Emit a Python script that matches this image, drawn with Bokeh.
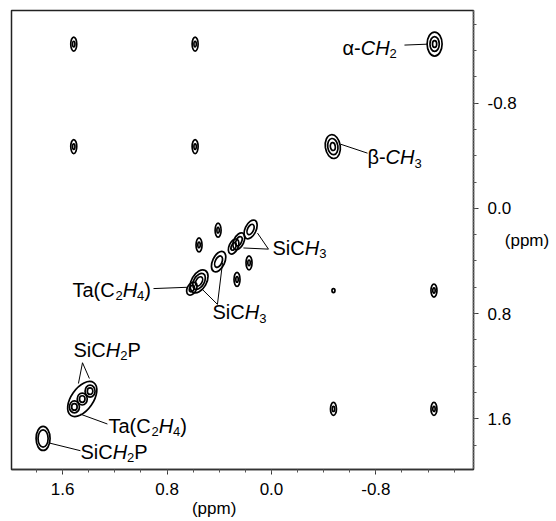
from bokeh.plotting import figure
from bokeh.models import Range1d, FixedTicker, PrintfTickFormatter
from bokeh.embed import file_html
from bokeh.resources import INLINE
from bokeh.core.properties import value
import math

# ---------------- data (ppm) ----------------
# diagonal peaks (F2 = F1)
diag_ppm = [-1.25, -0.47, 0.16, 0.25, 0.29, 0.405, 0.555, 0.61, 1.39, 1.45, 1.51, 1.75]
# cross peaks
cross_f2 = [1.515, 0.585, 1.515, 0.585, -0.475, -1.245, -0.475, -1.245, 0.555, 0.264, 0.409, 0.172]
cross_f1 = [-1.25, -1.25, -0.47, -0.47, 0.625, 0.625, 1.525, 1.525, 0.278, 0.54, 0.166, 0.414]
# envelope of the Ta(C2H4) multiplet
env_ppm = [1.45]
x_ticks = [1.6, 0.8, 0.0, -0.8]
y_ticks = [-0.8, 0.0, 0.8, 1.6]
minor = [round(-1.4 + 0.2 * i, 1) for i in range(17)]

# ---------------- styles ----------------
diag_style = [  # (w px, h px, angle deg, ring scales)
    (15, 24, 0, [1, 0.62, 0.28]),
    (15, 24, 8, [1, 0.68, 0.33]),
    (11, 20, -25, [1, 0.55]),
    (10, 18, -25, [1, 0.55]),
    (9, 16, -25, [1, 0.5]),
    (12, 22, -25, [1, 0.55]),
    (15, 25, -30, [1, 0.7, 0.4]),
    (9, 14, -30, [1, 0.5]),
    (10, 12, 0, [1, 0.55]),
    (10, 12, 0, [1, 0.55]),
    (10, 12, 0, [1, 0.55]),
    (14, 24, 0, [1, 0.72]),
]
cross_style = [(6, 14, 0, [1, 0.4])] * 4 + [(3, 4, 0, [1]), (6, 13, 0, [1, 0.4])] + \
              [(6, 13, 0, [1, 0.4])] * 2 + [(6, 14, 0, [1, 0.4])] * 4
env_style = [(40, 22, 55, [1])]

FONT = "Liberation Sans"

p = figure(width=552, height=520,
           x_range=Range1d(1.992, -1.548), y_range=Range1d(1.986, -1.505),
           output_backend="svg", toolbar_location=None,
           x_axis_location="below", y_axis_location="right",
           min_border_left=11, min_border_top=10, min_border_right=79, min_border_bottom=46)
p.grid.visible = False
p.outline_line_color = "#222222"
p.outline_line_width = 1.5
p.background_fill_color = "white"
p.border_fill_color = "white"

for ax, ticks in ((p.xaxis[0], x_ticks), (p.yaxis[0], y_ticks)):
    ax.ticker = FixedTicker(ticks=ticks, minor_ticks=minor)
    ax.formatter = PrintfTickFormatter(format="%.1f")
    ax.axis_line_color = "#333333"
    ax.axis_line_width = 1.5
    ax.major_tick_out = 5
    ax.major_tick_in = 0
    ax.minor_tick_out = 3
    ax.minor_tick_in = 0
    ax.major_tick_line_color = "#333333"
    ax.minor_tick_line_color = "#555555"
    ax.major_label_text_font = FONT
    ax.major_label_text_font_size = "17px"
    ax.major_label_text_color = "black"
    ax.axis_label_text_font = FONT
    ax.axis_label_text_font_size = "17px"
    ax.axis_label_text_font_style = "normal"
    ax.axis_label_text_color = "black"
p.xaxis[0].major_label_standoff = 8
p.xaxis[0].axis_label = "(ppm)" + "\u00a0" * 12
p.xaxis[0].axis_label_standoff = 1
p.yaxis[0].major_label_standoff = 9
p.yaxis[0].axis_line_dash = "2 1"
p.yaxis[0].axis_line_color = "#666666"
p.yaxis[0].axis_label = "(ppm)"
p.yaxis[0].axis_label_orientation = "horizontal"
p.yaxis[0].axis_label_standoff = -15

# ---------------- contours ----------------
xs, ys, ws, hs, angs = [], [], [], [], []
def add(xv, yv, style):
    w, h, a, rings = style
    for s in rings:
        xs.append(xv); ys.append(yv)
        ws.append(w * s); hs.append(h * s)
        angs.append(math.radians(a))

for v, st in zip(diag_ppm, diag_style):
    add(v, v, st)
for xv, yv, st in zip(cross_f2, cross_f1, cross_style):
    add(xv, yv, st)
for v, st in zip(env_ppm, env_style):
    add(v, v, st)

p.ellipse(x=xs, y=ys, width=ws, height=hs, angle=angs,
          width_units="screen", height_units="screen",
          fill_color=None, line_color="black", line_width=1.7)

# ---------------- labels ----------------
W = {"S": 667, "i": 222, "C": 722, "H": 722, "P": 667, "T": 611, "a": 556,
     "(": 333, ")": 333, "-": 333, "2": 556, "3": 556, "4": 556, "α": 578, "β": 575}
KERN = {"Ta": -74}
MAIN, SUB = 20, 13

def width(txt, fs):
    w = sum(W.get(c, 556) for c in txt)
    for pair, k in KERN.items():
        w += txt.count(pair) * k
    return w * fs / 1000.0

def label(x, y, segs):
    off = 0.0
    for txt, style in segs:
        sub = style == "sub"
        fs = SUB if sub else MAIN
        p.text(x=[x], y=[y], text=[txt], x_offset=off, y_offset=6 if sub else 0,
               text_font=value(FONT), text_font_size=f"{fs}px",
               text_font_style="italic" if style == "it" else "normal",
               text_align="left", text_baseline="middle", text_color="black")
        off += width(txt, fs)

def sich3(x, y):
    label(x, y, [("SiC", "n"), ("H", "it"), ("3", "sub")])

def sich2p(x, y):
    label(x, y, [("SiC", "n"), ("H", "it"), ("2", "sub"), ("P", "n")])

def tac2h4(x, y):
    label(x, y, [("Ta(C", "n"), ("2", "sub"), ("H", "it"), ("4", "sub"), (")", "n")])

label(-0.544, -1.222, [("α-", "n"), ("C", "it"), ("H", "it"), ("2", "sub")])
label(-0.735, -0.388, [("β-", "n"), ("C", "it"), ("H", "it"), ("3", "sub")])
sich3(-0.008, 0.30)
sich3(0.452, 0.79)
tac2h4(1.525, 0.617)
sich2p(1.517, 1.076)
tac2h4(1.249, 1.655)
sich2p(1.464, 1.851)

# leader lines
x0 = [-1.019, -0.530, 0.023, 0.023, 0.414, 0.414, 0.904, 1.448, 1.448, 1.464, 1.709]
y0 = [-1.242, -0.488, 0.31, 0.31, 0.730, 0.730, 0.61, 1.174, 1.174, 1.565, 1.783]
x1 = [-1.195, -0.736, 0.215, 0.107, 0.529, 0.375, 0.644, 1.479, 1.395, 1.257, 1.464]
y1 = [-1.249, -0.420, 0.301, 0.188, 0.617, 0.414, 0.60, 1.332, 1.294, 1.640, 1.843]
p.segment(x0=x0, y0=y0, x1=x1, y1=y1, line_color="black", line_width=1.0)

open("out.html", "w").write(file_html(p, INLINE))
